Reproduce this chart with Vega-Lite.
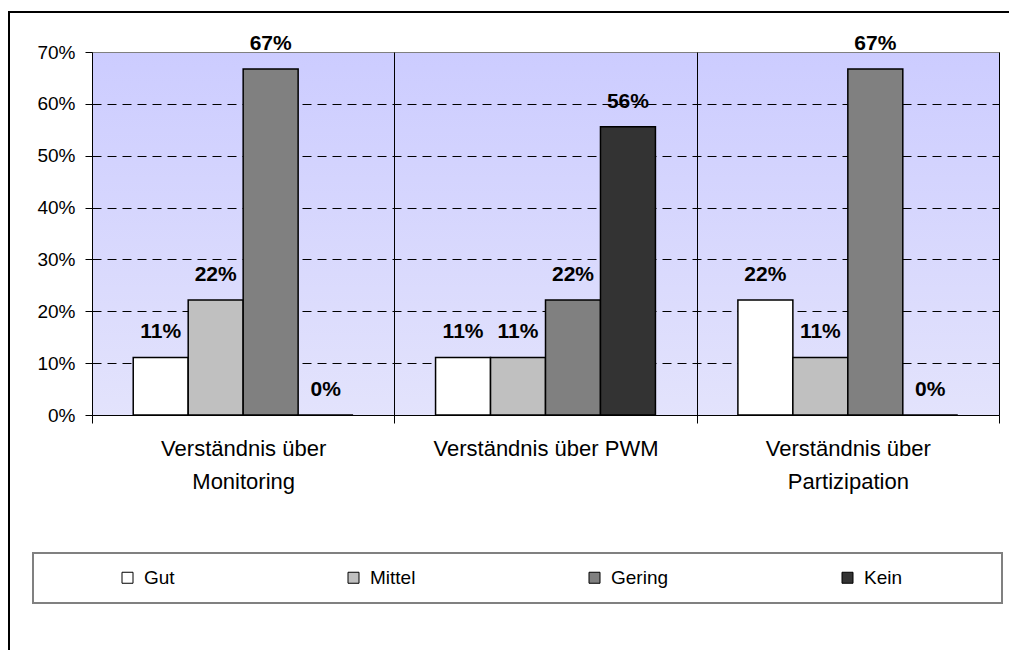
{
  "$schema": "https://vega.github.io/schema/vega-lite/v6.json",
  "width": 907,
  "height": 363,
  "autosize": {"type": "none"},
  "padding": {"left": 92, "top": 52, "right": 10, "bottom": 235},
  "background": "white",
  "data": {
    "values": [
      {"cat": "Verständnis über Monitoring", "level": "Gut", "value": 0.111},
      {"cat": "Verständnis über Monitoring", "level": "Mittel", "value": 0.222},
      {"cat": "Verständnis über Monitoring", "level": "Gering", "value": 0.667},
      {"cat": "Verständnis über Monitoring", "level": "Kein", "value": 0},
      {"cat": "Verständnis über PWM", "level": "Gut", "value": 0.111},
      {"cat": "Verständnis über PWM", "level": "Mittel", "value": 0.111},
      {"cat": "Verständnis über PWM", "level": "Gering", "value": 0.222},
      {"cat": "Verständnis über PWM", "level": "Kein", "value": 0.556},
      {"cat": "Verständnis über Partizipation", "level": "Gut", "value": 0.222},
      {"cat": "Verständnis über Partizipation", "level": "Mittel", "value": 0.111},
      {"cat": "Verständnis über Partizipation", "level": "Gering", "value": 0.667},
      {"cat": "Verständnis über Partizipation", "level": "Kein", "value": 0}
    ]
  },
  "encoding": {
    "x": {
      "field": "cat",
      "type": "nominal",
      "sort": ["Verständnis über Monitoring", "Verständnis über PWM", "Verständnis über Partizipation"],
      "scale": {"paddingInner": 0, "paddingOuter": 0},
      "axis": {
        "title": null,
        "labelAngle": 0,
        "tickBand": "extent",
        "grid": true,
        "gridColor": {"condition": {"test": "!isString(datum.value)", "value": "#808080"}, "value": "black"},
        "gridWidth": 1,
        "gridDash": [],
        "tickSize": 8,
        "tickColor": "black",
        "domainColor": "black",
        "labelFontSize": 22,
        "labelColor": "black",
        "labelPadding": 15,
        "labelLineHeight": 33,
        "labelLimit": 300,
        "labelExpr": "!isString(datum.value) ? '' : datum.value == 'Verständnis über PWM' ? datum.value : ['Verständnis über', replace(datum.value, 'Verständnis über ', '')]"
      }
    },
    "xOffset": {
      "field": "level",
      "type": "nominal",
      "sort": ["Gut", "Mittel", "Gering", "Kein"],
      "scale": {"paddingInner": 0, "paddingOuter": 0.75}
    },
    "y": {
      "field": "value",
      "type": "quantitative",
      "scale": {"domain": [0, 0.7], "nice": false},
      "axis": {
        "title": null,
        "values": [0, 0.1, 0.2, 0.3, 0.4, 0.5, 0.6, 0.7],
        "format": ".0%",
        "grid": true,
        "gridColor": "black",
        "gridDash": [9, 6],
        "gridWidth": 1,
        "gridOpacity": {"condition": {"test": "datum.value == 0 || datum.value > 0.65", "value": 0}, "value": 1},
        "tickSize": 7,
        "tickColor": "black",
        "domainColor": "black",
        "labelFontSize": 19,
        "labelColor": "black",
        "labelPadding": 10
      }
    }
  },
  "layer": [
    {
      "mark": {"type": "bar", "stroke": "black", "strokeWidth": 1.5},
      "encoding": {
        "fill": {
          "field": "level",
          "type": "nominal",
          "scale": {"domain": ["Gut", "Mittel", "Gering", "Kein"], "range": ["#ffffff", "#c0c0c0", "#808080", "#333333"]},
          "legend": {
            "orient": "none",
            "legendX": -59,
            "legendY": 501,
            "direction": "horizontal",
            "title": "\u00a0",
            "titleOrient": "left",
            "titleFontSize": 19,
            "titlePadding": 70,
            "padding": 15,
            "fillColor": "white",
            "strokeColor": "#808080",
            "symbolType": "square",
            "symbolSize": 121,
            "symbolStrokeColor": "black",
            "symbolStrokeWidth": 1,
            "labelFontSize": 19,
            "labelColor": "black",
            "labelOffset": 7,
            "labelLimit": 300,
            "columnPadding": 169,
            "labelExpr": "datum.value == 'Kein' ? 'Kein\u00a0\u00a0\u00a0\u00a0\u00a0\u00a0\u00a0\u00a0\u00a0\u00a0\u00a0\u00a0\u00a0\u00a0\u00a0\u00a0\u200b' : datum.label",
            "encode": {"legend": {"update": {"strokeWidth": {"value": 2}}}}
          }
        }
      }
    },
    {
      "mark": {"type": "text", "dy": -19, "baseline": "alphabetic", "fontWeight": "bold", "fontSize": 21, "color": "black"},
      "encoding": {
        "text": {"field": "value", "type": "quantitative", "format": ".0%"}
      }
    },
    {
      "mark": {"type": "point", "opacity": 0},
      "encoding": {
        "shape": {
          "datum": "frame",
          "type": "nominal",
          "scale": {"range": ["M-1,-0.7L1,-0.7L1,0.7L-1,0.7Z"]},
          "legend": {
            "orient": "none",
            "legendX": -83,
            "legendY": -40,
            "title": null,
            "padding": 0,
            "strokeColor": "black",
            "symbolSize": 1300000,
            "symbolOpacity": 0,
            "labelExpr": "''",
            "encode": {"legend": {"update": {"strokeWidth": {"value": 2.5}}}}
          }
        }
      }
    }
  ],
  "config": {
    "font": "Liberation Sans",
    "legend": {"strokeWidth": 2},
    "view": {
      "stroke": "#808080",
      "strokeWidth": 1,
      "fill": {
        "gradient": "linear",
        "x1": 0, "y1": 0, "x2": 0, "y2": 1,
        "stops": [{"offset": 0, "color": "#ccccff"}, {"offset": 1, "color": "#e3e3fc"}]
      }
    }
  }
}
